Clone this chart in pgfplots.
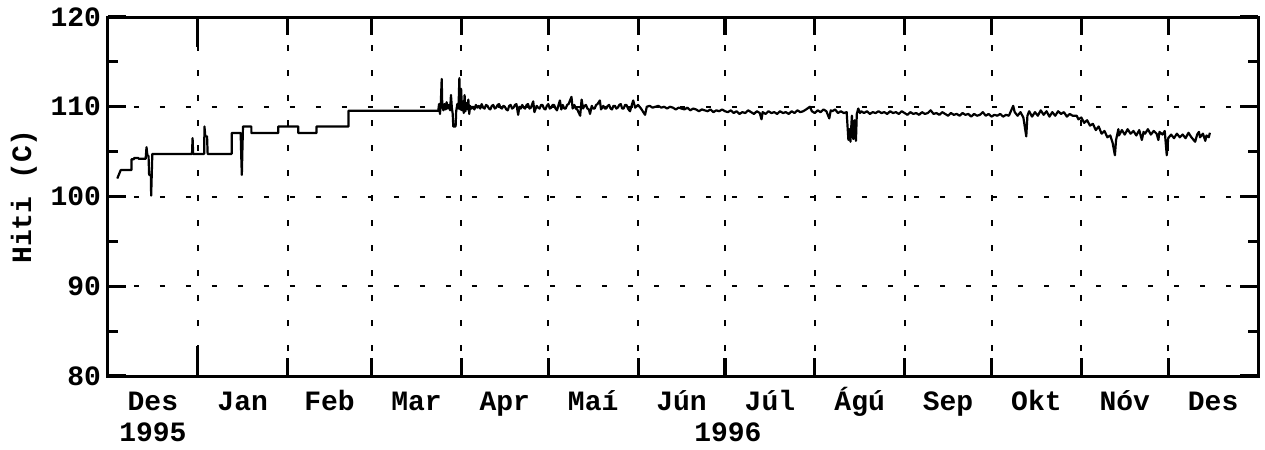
\documentclass[border=0pt]{standalone}
\usepackage{fontspec}
\setmainfont{Liberation Mono}[BoldFont={Liberation Mono Bold}]
\usepackage{pgfplots}
\pgfplotsset{compat=1.18}
\usepackage{pgfplotstable}

% Day 0 = 1 Dec 1995; temperature in degrees C
\pgfplotstableread{
day temp
3.2 102.0
4.4 102.95
8.1 102.95
8.1 104.15
9.0 104.15
9.0 104.3
10.5 104.3
10.5 104.2
13.0 104.2
13.3 105.5
13.6 104.6
14.0 104.5
14.2 102.4
14.8 102.4
14.9 100.1
15.1 102.4
15.3 104.74
29.0 104.74
29.2 106.5
29.4 104.74
33.2 104.74
33.3 107.8
33.6 106.7
34.2 106.7
34.4 104.74
42.7 104.74
42.7 107.07
45.8 107.07
46.0 104.5
46.2 102.4
46.4 105.2
46.6 107.8
49.5 107.8
49.5 107.07
58.8 107.07
58.8 107.8
65.7 107.8
65.7 107.07
72.0 107.07
72.0 107.8
83.0 107.8
83.0 109.55
114.0 109.55
114.3 110.3
114.6 109.2
114.9 110.4
115.2 113.1
115.4 110.0
115.8 109.6
116.2 110.3
116.6 109.7
116.9 110.5
117.3 109.8
117.7 110.2
118.1 109.6
118.4 111.3
118.7 109.9
119.0 109.2
119.2 107.8
120.0 107.8
120.2 109.5
120.6 110.3
121.0 109.8
121.3 113.2
121.6 109.7
121.9 112.0
122.2 109.6
122.5 110.6
122.8 109.3
123.1 111.3
123.4 109.5
123.8 110.4
124.2 109.7
124.4 110.8
124.7 109.2
125.0 110.1
125.5 109.8
126 110.0
126.5 109.7
127 110.2
127.5 109.9
128 110.1
128.5 109.8
129 110.3
129.5 109.9
130 109.8
130.5 110.2
131 110.1
131.5 109.8
132 109.7
132.5 110.1
133 110.2
133.5 109.8
134 109.9
134.5 110.2
135 110.3
135.5 109.9
136 109.8
136.5 110.1
137 110.0
137.5 109.7
138 109.6
138.5 110.1
139 110.2
139.5 109.8
140 109.9
140.5 110.2
141 110.3
141.6 109.1
142 110.0
142.5 109.8
143 110.2
143.5 109.9
144 109.8
144.5 110.2
145 110.3
145.5 109.8
146 109.9
146.8 110.6
147.2 109.4
148 110.1
148.5 109.9
149 109.8
149.5 110.2
150 110.2
150.5 109.8
151 109.7
151.5 110.1
152 110.3
152.5 109.8
153 109.9
153.5 110.2
154 110.2
154.5 109.8
155 109.6
156 110.7
156.5 109.7
157 110.2
157.5 109.8
158 109.8
158.5 110.2
159 110.3
160 111.1
160.4 109.8
161 110.2
161.5 109.8
162 109.7
163 109.0
163.5 110.8
164 109.8
164.5 110.1
165 110.2
165.5 109.8
166 109.7
166.4 109.2
167 110.1
167.5 109.8
168 109.8
168.5 110.2
169 110.3
169.8 110.7
170.2 109.7
171 110.1
171.5 109.8
172 109.8
172.5 110.1
173 110.2
173.5 109.8
174 109.7
174.5 110.1
175 110.1
175.5 109.8
176 109.9
176.5 110.2
177 110.3
177.5 109.8
178 109.8
178.5 110.2
179 110.2
179.5 109.8
180.2 109.5
181.3 110.7
182 109.9
183 110.2
184 109.8
185.4 109.1
186 110.0
187 110.1
188 109.9
189 110.0
190 110.1
191 109.9
192 110.0
193 109.8
194 110.0
195 109.9
196 109.7
197 109.9
198 109.8
199 109.7
200 109.9
201 109.6
202 109.8
203 109.7
204 109.5
205 109.7
206 109.6
207 109.5
208 109.7
209 109.4
210 109.6
211 109.5
212 109.7
213 109.5
214 109.4
215 109.6
216 109.3
217 109.5
218 109.2
219 109.4
220 109.3
221 109.6
222 109.4
223 109.2
224 109.5
225 109.3
225.6 108.6
226 109.4
227 109.2
228 109.5
229 109.3
230 109.4
231 109.2
232 109.5
233 109.3
234 109.4
235 109.2
236 109.5
237 109.3
238 109.6
239 109.4
240 109.5
241 109.7
242.3 110.0
243 109.5
244 109.3
245 109.6
246 109.4
247 109.7
248 109.5
249 108.7
249.5 109.6
250 109.5
251 109.7
252 109.3
253 109.5
254 109.3
255 109.4
255.6 106.3
256 107.5
256.3 106.1
256.8 109.0
257.3 106.4
257.8 108.5
258.2 106.2
258.5 109.2
259 109.8
259.6 109.3
260 109.5
261 109.3
262 109.5
263 109.2
264 109.4
265 109.3
266 109.5
267 109.3
268 109.4
269 109.2
270 109.5
271 109.3
272 109.4
273 109.2
274 109.5
275 109.3
276 109.1
277 109.4
278 109.2
279 109.3
280 109.1
281 109.4
282 109.2
283 109.3
284 109.6
285 109.2
286 109.3
287 109.1
288 109.4
289 109.2
290 109.0
291 109.3
292 109.1
293 109.2
294 109.0
295 109.3
296 109.1
297 109.2
298 108.9
299 109.2
300 109.0
301 109.1
302 109.4
303 109.0
304 109.2
305 108.9
306 109.1
307 109.0
308 109.2
309 108.9
310 109.1
311 109.0
312.5 110.1
313 109.4
314 109.0
315 109.4
316 108.8
317 106.7
317.4 109.0
318 109.5
319 108.9
320 109.4
321 109.0
322 109.6
323 109.1
324 109.5
325 108.9
326 109.4
327 109.0
328 109.5
329 109.2
330 109.4
331 108.9
332 109.2
333 109.0
334.4 109.0
335 108.6
336 108.8
337 108.2
338 108.5
339 107.9
340 108.1
341 107.4
342 107.8
343 107.0
344 107.3
345 106.6
346 106.8
346.8 106.0
347.6 104.6
348 106.3
348.8 107.5
349 106.8
350 107.4
351 106.9
352 107.5
353 107.0
354 107.3
355 106.8
356 107.4
356.9 106.3
357.5 107.2
358 107.0
359 107.5
360 106.9
361 107.3
362 107.0
362.6 106.3
363 107.2
364 106.9
364.8 107.3
365.5 104.6
366 106.5
367 106.9
368 106.5
369 107.0
370 106.6
371 106.9
372 106.5
373 107.1
374 106.6
375.3 106.1
376 106.9
376.6 107.2
377 106.6
378 107.0
378.8 106.2
379.2 106.8
380 106.6
380.4 107.1
}\hitidata

\begin{document}
\begin{tikzpicture}
\path[use as bounding box] (-54pt,-37pt) rectangle (578.5pt,188pt);
\begin{axis}[
  at={(0,0)}, anchor=south west,
  scale only axis, width=575pt, height=179.5pt,
  xmin=0, xmax=397, ymin=80, ymax=120,
  clip=false,
  font=\fontsize{14}{16}\selectfont\bfseries,
  /pgf/number format/assume math mode=true,
  axis line style={line width=1.5pt},
  tick align=inside,
  major tick length=9pt, minor tick length=5pt,
  every tick/.style={line width=1.6pt, black},
  ytick={80,90,100,110,120},
  minor ytick={85,95,105,115},
  ymajorgrids=true,
  y grid style={black, line width=1pt, dash pattern=on 2.5pt off 10.5pt},
  xtick={31,62,91,122,152,183,213,244,275,305,336,366},
  xticklabels={},
  xmajorgrids=true,
  x grid style={black, line width=1pt, dash pattern=on 3pt off 9.5pt},
  extra x ticks={15.5,46.5,76.5,106.5,137,167.5,198,228.5,259.5,290,320.5,351,381.5},
  extra x tick labels={Des,Jan,Feb,Mar,Apr,Maí,Jún,Júl,Ágú,Sep,Okt,Nóv,Des},
  extra x tick style={grid=none, major tick length=0pt,
    ticklabel style={anchor=base, yshift=-17.3pt}},
  ylabel={Hiti (C)},
  ylabel style={at={([xshift=-42pt]axis description cs:0,0.5)}, anchor=center},
]
\addplot[black, line width=1.1pt, line join=round, mark=none] table[x=day, y=temp] {\hitidata};
% longer ticks at the turn of the year
\draw[line width=1.6pt] (axis cs:31,80) -- ([yshift=15pt]axis cs:31,80);
\draw[line width=1.6pt] (axis cs:31,120) -- ([yshift=-15pt]axis cs:31,120);
\node[anchor=base, yshift=-32.8pt] at (axis cs:15.5,80) {1995};
\node[anchor=base, yshift=-32.8pt] at (axis cs:214,80) {1996};
\end{axis}
\end{tikzpicture}
\end{document}
